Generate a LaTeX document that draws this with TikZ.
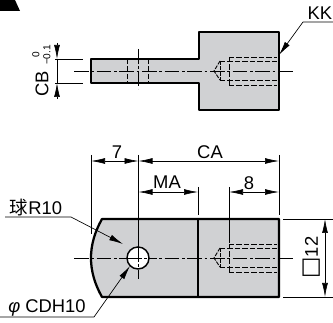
\documentclass[tikz,border=0pt]{standalone}
\usepackage{fontspec}
\setmainfont{Liberation Sans}
\newfontfamily\cjkfont{Noto Sans CJK SC}
\newfontfamily\symfont{DejaVu Sans}
\usetikzlibrary{arrows.meta}
\definecolor{partgray}{HTML}{D0D1D3}
\tikzset{
  outline/.style={draw=black,line width=1.7pt,line join=round,fill=partgray},
  edge/.style={draw=black,line width=1pt},
  hidden/.style={draw=black,line width=.7pt,dash pattern=on 4pt off 1.6pt},
  axis/.style={draw=black,line width=.45pt,dash pattern=on 11pt off 2pt on 2pt off 2pt},
  thin line/.style={draw=black,line width=.5pt},
  dim/.style={thin line,{Latex[length=10.5pt,width=4.4pt]}-{Latex[length=10.5pt,width=4.4pt]}},
  leader/.style={thin line,-{Latex[length=10.5pt,width=4.4pt]}},
  label/.style={inner sep=0pt,font=\fontsize{13.8}{15}\selectfont},
  small label/.style={inner sep=0pt,font=\fontsize{7.6}{9}\selectfont}
}
\begin{document}
\begin{tikzpicture}[x=.75pt,y=-.75pt]
\useasboundingbox (0,0) rectangle (333,323);
% corner mark
\fill[black] (0,0) -- (15,0) -- (20,11) -- (0,11) -- cycle;
% side view
\draw[outline] (91,59) -- (199,59) -- (199,32) -- (279,32) -- (279,110) -- (199,110) -- (199,83) -- (91,83) -- cycle;
\draw[hidden] (127.5,59) -- (127.5,83);
\draw[hidden] (148.5,59) -- (148.5,83);
\draw[hidden] (229,57) -- (277,57);
\draw[hidden] (229,85) -- (277,85);
\draw[hidden] (220,61) -- (277,61);
\draw[hidden] (220,80) -- (277,80);
\draw[hidden] (229,57) -- (229,85);
\draw[hidden,dash pattern=on 3pt off 1pt] (220,61) -- (220,80);
\draw[hidden,dash pattern=on 3pt off 1pt] (220,61) -- (214,71) -- (220,80);
\draw[axis] (74,71) -- (295,71);
\draw[axis] (138.5,49) -- (138.5,89);
% end view
\draw[outline] (102,219) -- (279,219) -- (279,297) -- (102,297) .. controls (87.3,271) and (87.3,245) .. (102,219) -- cycle;
\draw[edge] (198,219) -- (198,297);
\draw[hidden] (229,244) -- (277,244);
\draw[hidden] (229,272) -- (277,272);
\draw[hidden] (220,248) -- (277,248);
\draw[hidden] (220,267) -- (277,267);
\draw[hidden] (229,244) -- (229,272);
\draw[hidden,dash pattern=on 3pt off 1pt] (220,248) -- (220,267);
\draw[hidden,dash pattern=on 3pt off 1pt] (220,248) -- (214,258) -- (220,267);
\draw[axis] (74,258) -- (295,258);
\node[circle,draw=black,line width=1.1pt,fill=white,minimum size=16.5pt,inner sep=0pt] (hole) at (138,258) {};
\draw[thin line] (138.5,155) -- (138.5,247);
\draw[axis] (138.5,247) -- (138.5,279);
\draw[axis] (127,258) -- (150,258);
% reference points
\coordinate (cbtop) at (57,59);
\coordinate (cbbot) at (57,83);
\coordinate (left) at (91,161);
\coordinate (mid) at (138.5,161);
\coordinate (right) at (279,161);
\coordinate (mamid) at (138.5,192);
\coordinate (maend) at (198,192);
\coordinate (thr) at (229,192);
\coordinate (thrend) at (279,192);
\coordinate (sqtop) at (325,219);
\coordinate (sqbot) at (325,297);
% dimensions
\draw[thin line] (55,59) -- (83,59);
\draw[thin line] (55,83) -- (83,83);
\draw[leader] (57,43) -- (cbtop);
\draw[leader] (57,99) -- (cbbot);
\draw[thin line] (cbtop) -- (cbbot);
\draw[thin line] (91,155) -- (91,234);
\draw[thin line] (279,155) -- (279,215);
\draw[thin line] (198,187) -- (198,215);
\draw[thin line] (229,187) -- (229,243);
\draw[thin line] (283,219) -- (333,219);
\draw[thin line] (283,297) -- (333,297);
\draw[dim] (left) -- (mid);
\draw[dim] (mid) -- (right);
\draw[dim] (mamid) -- (maend);
\draw[dim] (thr) -- (thrend);
\draw[dim] (sqtop) -- (sqbot);
% leaders
\coordinate (kkend) at (303,22);
\coordinate (kktip) at (279,55);
\draw[leader] (333,22) -- (kkend) -- (kktip);
\coordinate (balla) at (5,217);
\coordinate (ballb) at (71,217);
\coordinate (balltip) at (123,244);
\draw[leader] (balla) -- (ballb) -- (balltip);
\coordinate (bore) at (94,317);
\coordinate (boretip) at (130,266);
\draw[leader] (0,317) -- (bore) -- (boretip);
% labels
\node[label] (kk) at (320,13) {KK};
\node[label,rotate=90] (cb) at (42,84) {CB};
\node[small label,rotate=90] (cbup) at (36,55) {0};
\node[small label,rotate=90] (cblow) at (47,55) {−0.1};
\node[label] (seven) at (117,152) {7};
\node[label] (ca) at (210,152) {CA};
\node[label] (ma) at (167,182) {MA};
\node[label] (eight) at (249,183) {8};
\node[label] (ball) at (36,208) {{\cjkfont 球}R10};
\node[label] (bored) at (47,308) {\textit{φ} CDH10};
\node[label,rotate=90] (sq) at (312,257.5) {{\symfont\fontsize{17}{17}\selectfont □}12};
\end{tikzpicture}
\end{document}
